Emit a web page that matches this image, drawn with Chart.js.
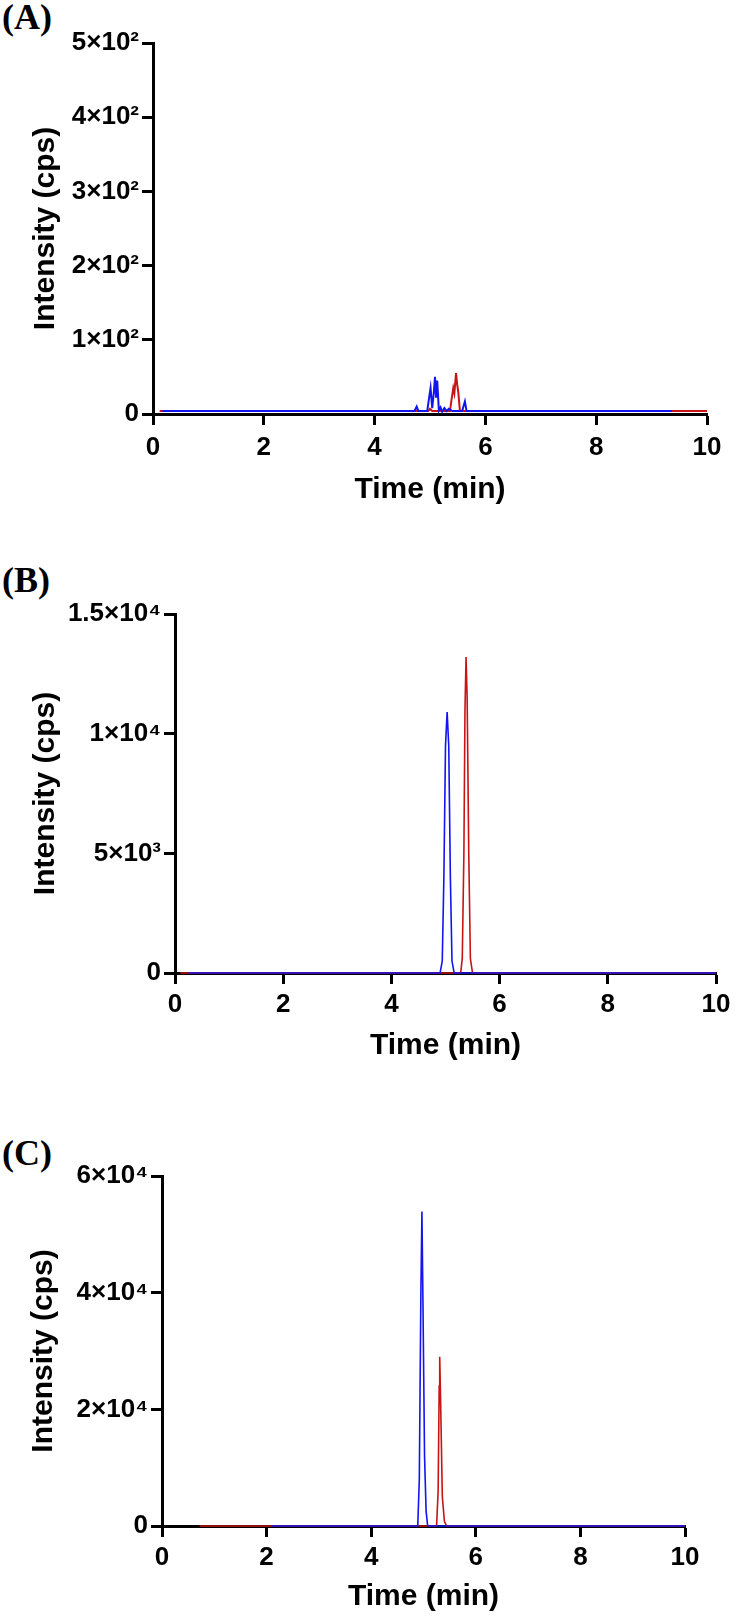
<!DOCTYPE html>
<html>
<head>
<meta charset="utf-8">
<script src="https://cdn.jsdelivr.net/npm/chart.js@4.4.0/dist/chart.umd.min.js"></script>
<style>
  html, body { margin: 0; padding: 0; background: #fff; }
  body { width: 738px; height: 1619px; position: relative; overflow: hidden; }
  .panel { position: absolute; left: 0; width: 738px; }
  .tag { position: absolute; left: 2px; font: bold 36px 'Liberation Serif', 'Times New Roman', serif; line-height: 1; color: #000; }
</style>
</head>
<body>
<div class="tag" style="top:-1px">(A)</div>
<div class="tag" style="top:562px">(B)</div>
<div class="tag" style="top:1135px">(C)</div>
<div class="panel" style="top:0"><canvas id="chartA" width="738" height="514"></canvas></div>
<div class="panel" style="top:520px"><canvas id="chartB" width="738" height="550"></canvas></div>
<div class="panel" style="top:1090px"><canvas id="chartC" width="738" height="529"></canvas></div>
<script>
// ---------------- Data ----------------
const xTicks = ['0', '2', '4', '6', '8', '10'];

// (A) blank level, 0-500 cps
const aYTicks = ['0', '1×10²', '2×10²', '3×10²', '4×10²', '5×10²'];
const aBlueTime = [0.17, 4.72, 4.76, 4.79, 4.95, 4.98, 5.01, 5.04, 5.07, 5.09, 5.11, 5.13, 5.16, 5.19, 5.22, 5.26, 5.30, 5.34, 5.40, 5.58, 5.63, 5.66, 9.37];
const aBlueCps  = [4, 4, 10, 4, 4, 20, 35, 8, 30, 50, 22, 45, 5, 9, 3, 8, 4, 7, 4, 4, 17, 4, 4];
const aRedTime  = [0.12, 4.97, 5.00, 5.04, 5.36, 5.39, 5.42, 5.44, 5.47, 5.49, 5.51, 5.54, 10.0];
const aRedCps   = [4, 4, 7, 4, 4, 20, 35, 28, 55, 40, 30, 4, 4];

// (B) 0-1.5e4 cps
const bYTicks = ['0', '5×10³', '1×10⁴', '1.5×10⁴'];
const bBlueTime = [0.25, 4.90, 4.94, 4.97, 5.00, 5.03, 5.06, 5.09, 5.12, 5.16, 10.0];
const bBlueCps  = [0, 0, 500, 4000, 9500, 10900, 9500, 4000, 500, 0, 0];
const bRedTime  = [0.10, 5.28, 5.31, 5.34, 5.36, 5.38, 5.40, 5.43, 5.46, 5.50, 10.0];
const bRedCps   = [0, 0, 600, 5000, 11000, 13200, 11500, 5000, 600, 0, 0];

// (C) 0-6e4 cps
const cYTicks = ['0', '2×10⁴', '4×10⁴', '6×10⁴'];
const cBlueTime = [2.10, 4.89, 4.92, 4.95, 4.97, 4.99, 5.02, 5.05, 5.08, 10.0];
const cBlueCps  = [0, 0, 8000, 40000, 53900, 38000, 12000, 2500, 0, 0];
const cRedTime  = [0.72, 5.25, 5.28, 5.30, 5.31, 5.33, 5.36, 5.40, 5.44, 10.0];
const cRedCps   = [0, 0, 6000, 24000, 29000, 20000, 5000, 800, 0, 0];

const BLUE = '#1414f0';
const RED = '#c81414';
const FONT = "'Liberation Sans', Arial, 'DejaVu Sans', sans-serif";

Chart.defaults.color = '#000';

function toPoints(times, values) {
  return times.map((t, i) => ({ x: t, y: values[i] }));
}

function makeChart(id, cfg) {
  const ctx = document.getElementById(id).getContext('2d');
  return new Chart(ctx, {
    type: 'line',
    data: {
      datasets: [
        { data: toPoints(cfg.blueTime, cfg.blueCps), borderColor: BLUE, borderWidth: cfg.lineWidth, pointRadius: 0, tension: 0, clip: false },
        { data: toPoints(cfg.redTime, cfg.redCps), borderColor: RED, borderWidth: cfg.lineWidth, pointRadius: 0, tension: 0, clip: false }
      ]
    },
    options: {
      responsive: false,
      animation: false,
      devicePixelRatio: 1,
      layout: { padding: { top: cfg.padTop, right: cfg.padRight, left: 0, bottom: 0 } },
      plugins: { legend: { display: false }, tooltip: { enabled: false } },
      scales: {
        x: {
          type: 'linear', min: 0, max: 10,
          ticks: {
            stepSize: 2, autoSkip: false, maxRotation: 0, padding: cfg.xPad, color: '#000',
            font: { family: FONT, size: 26, weight: 'bold' },
            callback: (v, i) => xTicks[i]
          },
          grid: { drawOnChartArea: false, drawTicks: true, tickLength: 11, tickWidth: 3, tickColor: '#000' },
          border: { display: true, width: 3, color: '#000' },
          title: { display: true, text: 'Time (min)', color: '#000', font: { family: FONT, size: 30, weight: 'bold' }, padding: { top: 0, bottom: cfg.xTitlePad } },
          afterFit: s => { s.height = cfg.xHeight; }
        },
        y: {
          type: 'linear', min: 0, max: cfg.yMax,
          ticks: {
            stepSize: cfg.yStep, autoSkip: false, padding: 3, color: '#000',
            font: { family: FONT, size: 26, weight: 'bold' },
            callback: (v, i) => cfg.yTicks[i]
          },
          grid: { drawOnChartArea: false, drawTicks: true, tickLength: 11, tickWidth: 3, tickColor: '#000' },
          border: { display: true, width: 3, color: '#000' },
          title: { display: true, text: 'Intensity (cps)', color: '#000', font: { family: FONT, size: 30, weight: 'bold' }, padding: { top: cfg.yTitlePad, bottom: 0 } },
          afterFit: s => { s.width = cfg.yWidth; }
        }
      }
    }
  });
}

makeChart('chartA', {
  blueTime: aBlueTime, blueCps: aBlueCps, redTime: aRedTime, redCps: aRedCps,
  yTicks: aYTicks, yMax: 500, yStep: 100, lineWidth: 2,
  padTop: 43, padRight: 31, yWidth: 153, xHeight: 100, xTitlePad: 6, xPad: 7, yTitlePad: 28
});

makeChart('chartB', {
  blueTime: bBlueTime, blueCps: bBlueCps, redTime: bRedTime, redCps: bRedCps,
  yTicks: bYTicks, yMax: 15000, yStep: 5000, lineWidth: 1.6,
  padTop: 94, padRight: 22, yWidth: 175, xHeight: 97, xTitlePad: 6, xPad: 5, yTitlePad: 28
});

makeChart('chartC', {
  blueTime: cBlueTime, blueCps: cBlueCps, redTime: cRedTime, redCps: cRedCps,
  yTicks: cYTicks, yMax: 60000, yStep: 20000, lineWidth: 1.6,
  padTop: 86, padRight: 53, yWidth: 162, xHeight: 93, xTitlePad: 4, xPad: 5, yTitlePad: 26
});
</script>
</body>
</html>
